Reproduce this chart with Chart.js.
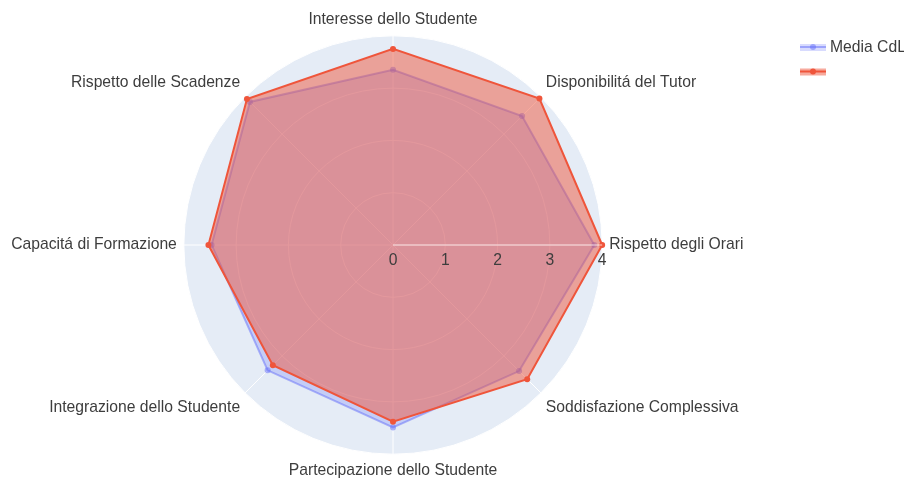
<!DOCTYPE html>
<html>
<head>
<meta charset="utf-8">
<script src="https://cdn.jsdelivr.net/npm/chart.js@4.4.1/dist/chart.umd.min.js"></script>
<style>
  html, body { margin: 0; padding: 0; background: #fff; overflow: hidden; }
  #frame { position: relative; width: 904px; height: 481px; overflow: hidden; }
  /* canvas starts 20px left of the page so the left label does not squeeze the radar */
  #wrap { position: absolute; left: -20px; top: 0; width: 924px; height: 481px; }
</style>
</head>
<body>
<div id="frame"><div id="wrap"><canvas id="radarChart"></canvas></div></div>
<script>
// categories listed clockwise starting from the right (3 o'clock)
const categories = [
    'Rispetto degli Orari',
    'Soddisfazione Complessiva',
    'Partecipazione dello Studente',
    'Integrazione dello Studente',
    'Capacitá di Formazione',
    'Rispetto delle Scadenze',
    'Interesse dello Studente',
    'Disponibilitá del Tutor'
]
const mediaCdl = [3.85, 3.41, 3.49, 3.39, 3.47, 3.87, 3.35, 3.49]
const tutorScores = [4.0, 3.63, 3.38, 3.25, 3.53, 3.95, 3.75, 3.96]
const radialTicks = [0, 1, 2, 3, 4]
const seriesNames = ['Media CdL', '']

const FONT = '"Liberation Sans", Arial, sans-serif'
const FONT_SIZE = 15.7
const TEXT_COLOR = '#3d3d3d'
const CANVAS_SHIFT = 20

// radial axis line + tick labels drawn on top of the traces (like plotly's "above traces")
const radialAxisPlugin = {
    id: 'radialAxis',
    afterDatasetsDraw(chart) {
        const scale = chart.scales.r
        const ctx = chart.ctx
        const start = scale.getPointPositionForValue(0, radialTicks[0])
        const end = scale.getPointPositionForValue(0, radialTicks[radialTicks.length - 1])
        ctx.save()
        ctx.strokeStyle = 'rgba(255,255,255,0.75)'
        ctx.lineWidth = 1
        ctx.beginPath()
        ctx.moveTo(start.x, start.y)
        ctx.lineTo(end.x, end.y)
        ctx.stroke()
        ctx.font = `${FONT_SIZE}px ${FONT}`
        ctx.fillStyle = TEXT_COLOR
        ctx.textAlign = 'center'
        ctx.textBaseline = 'middle'
        radialTicks.forEach(t => {
            const p = scale.getPointPositionForValue(0, t)
            ctx.fillText(String(t), p.x, p.y + 16)
        })
        ctx.restore()
    }
}

// legend in the top right corner, plotly style (fill band + line + marker)
const sideLegendPlugin = {
    id: 'sideLegend',
    afterDraw(chart) {
        const ctx = chart.ctx
        chart.data.datasets.forEach((ds, i) => {
            const y = 47 + i * 24.5
            const x0 = 800 + CANVAS_SHIFT
            ctx.save()
            ctx.fillStyle = ds.backgroundColor
            ctx.fillRect(x0, y - 3, 26, 7)
            ctx.strokeStyle = ds.borderColor
            ctx.lineWidth = 2
            ctx.beginPath()
            ctx.moveTo(x0, y)
            ctx.lineTo(x0 + 26, y)
            ctx.stroke()
            ctx.fillStyle = ds.pointBackgroundColor
            ctx.beginPath()
            ctx.arc(x0 + 13, y, 3, 0, Math.PI * 2)
            ctx.fill()
            ctx.font = `${FONT_SIZE}px ${FONT}`
            ctx.fillStyle = TEXT_COLOR
            ctx.textBaseline = 'middle'
            ctx.fillText(ds.label, x0 + 30, y + 1)
            ctx.restore()
        })
    }
}

new Chart(document.getElementById('radarChart'), {
    type: 'radar',
    data: {
        labels: categories,
        datasets: [
            {
                label: seriesNames[0],
                data: mediaCdl,
                borderColor: 'rgba(99,110,250,0.5)',
                backgroundColor: 'rgba(99,110,250,0.25)',
                pointBackgroundColor: 'rgba(99,110,250,0.5)',
                pointBorderWidth: 0,
                pointRadius: 3,
                borderWidth: 2,
                fill: true,
                order: 2
            },
            {
                label: seriesNames[1],
                data: tutorScores,
                borderColor: '#EF553B',
                backgroundColor: 'rgba(239,85,59,0.5)',
                pointBackgroundColor: '#EF553B',
                pointBorderWidth: 0,
                pointRadius: 3,
                borderWidth: 2,
                fill: true,
                order: 1
            }
        ]
    },
    options: {
        responsive: true,
        maintainAspectRatio: false,
        animation: false,
        layout: { padding: { left: 0, right: 98, top: 10, bottom: 1 } },
        plugins: {
            legend: { display: false },
            tooltip: { enabled: false }
        },
        elements: { line: { tension: 0 } },
        scales: {
            r: {
                min: 0,
                max: 4,
                startAngle: 90,
                backgroundColor: '#E5ECF6',
                grid: { circular: true, color: '#ffffff', lineWidth: 1 },
                angleLines: { color: '#ffffff', lineWidth: 1 },
                ticks: { display: false, stepSize: 1 },
                pointLabels: {
                    font: { size: FONT_SIZE, family: FONT },
                    color: TEXT_COLOR,
                    padding: 7
                }
            }
        }
    },
    plugins: [radialAxisPlugin, sideLegendPlugin]
})
</script>
</body>
</html>
